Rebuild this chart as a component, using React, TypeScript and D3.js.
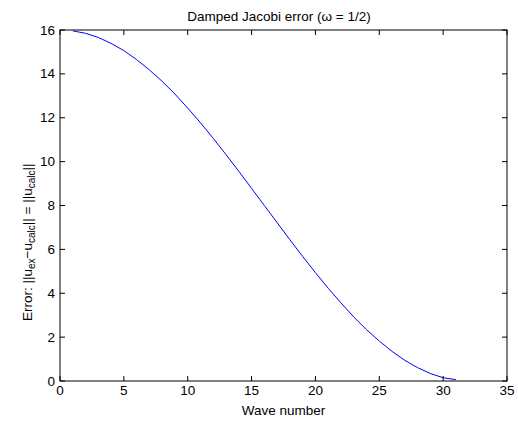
import React from "react";
import * as d3 from "d3";

const waveNumbers = [1,2,3,4,5,6,7,8,9,10,11,12,13,14,15,16,17,18,19,20,21,22,23,24,25,26,27,28,29,30,31];
const errorValues = [15.96,15.85,15.66,15.39,15.06,14.65,14.18,13.66,13.08,12.44,11.77,11.06,10.32,9.56,8.78,8.0,7.22,6.44,5.68,4.94,4.23,3.56,2.92,2.34,1.82,1.35,0.94,0.61,0.34,0.15,0.06];
const xTicks = [0,5,10,15,20,25,30,35];
const yTicks = [0,2,4,6,8,10,12,14,16];

const W = 518, H = 421;
const L = 60, R = 507, T = 30, B = 381;
const FONT = "'Liberation Sans', Arial, Helvetica, sans-serif";
const FS = 13.5;
const SUB = 10;

export default function App() {
  const x = d3.scaleLinear().domain([0, 35]).range([L, R]);
  const y = d3.scaleLinear().domain([0, 16]).range([B, T]);
  const line = d3.line<number>().x((_, i) => x(waveNumbers[i])).y((d) => y(d));
  const tl = 5;
  return (
    <svg width={W} height={H} style={{ position: "absolute", left: 0, top: 0, background: "#fff" }} fontFamily={FONT}>
      <rect x={0} y={0} width={W} height={H} fill="#fff" />
      <path d={line(errorValues) || ""} fill="none" stroke="#0000ff" strokeWidth={1} />
      {xTicks.map((t) => (
        <g key={"x" + t}>
          <line x1={x(t)} x2={x(t)} y1={B} y2={B - tl} stroke="#000" />
          <line x1={x(t)} x2={x(t)} y1={T} y2={T + tl} stroke="#000" />
          <text x={x(t)} y={395} fontSize={FS} textAnchor="middle">{t}</text>
        </g>
      ))}
      {yTicks.map((t) => (
        <g key={"y" + t}>
          <line x1={L} x2={L + tl} y1={y(t)} y2={y(t)} stroke="#000" />
          <line x1={R} x2={R - tl} y1={y(t)} y2={y(t)} stroke="#000" />
          <text x={55} y={y(t) + 4.5} fontSize={FS} textAnchor="end">{t}</text>
        </g>
      ))}
      <rect x={L} y={T} width={R - L} height={B - T} fill="none" stroke="#000" strokeWidth={1} />
      <text x={279} y={21} fontSize={13.5} textAnchor="middle">Damped Jacobi error (ω = 1/2)</text>
      <text x={(L + R) / 2} y={415} fontSize={FS} textAnchor="middle">Wave number</text>
      <text transform={`translate(31.5,321) rotate(-90)`} fontSize={FS} textAnchor="start">
        Error: ||u<tspan fontSize={SUB} dy={3}>ex</tspan><tspan dy={-3}>−u</tspan><tspan fontSize={SUB} dy={3}>calc</tspan><tspan dy={-3}>|| = ||u</tspan><tspan fontSize={SUB} dy={3}>calc</tspan><tspan dy={-3}>||</tspan>
      </text>
    </svg>
  );
}
